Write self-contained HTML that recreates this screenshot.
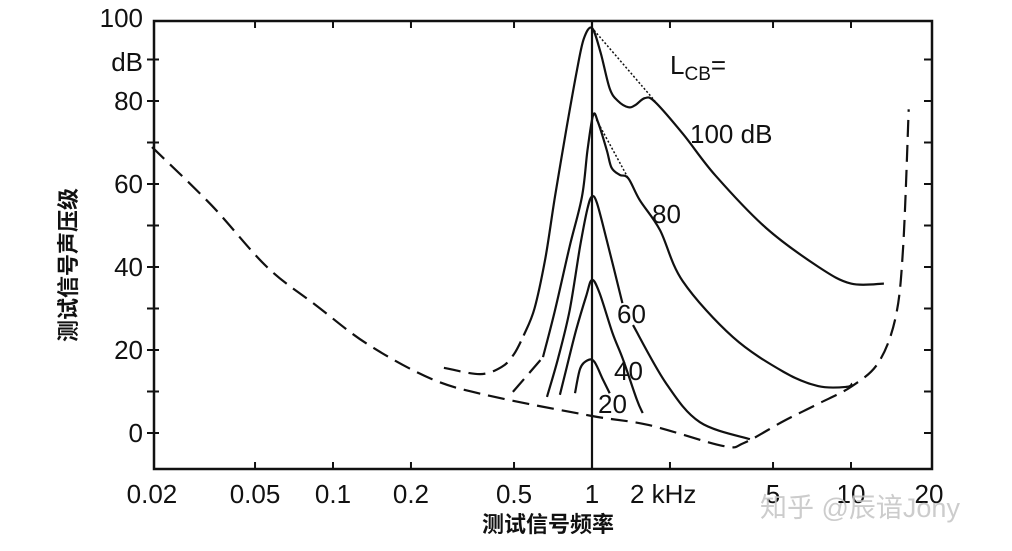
<!DOCTYPE html>
<html><head><meta charset="utf-8"><style>
html,body{margin:0;padding:0;background:#fff;}
svg{display:block;}
text{font-family:"Liberation Sans","Noto Sans CJK SC",sans-serif;fill:#111;}
</style></head><body>
<svg id="chart" width="1012" height="551" viewBox="0 0 1012 551" xmlns="http://www.w3.org/2000/svg">
<g id="axes"></g>
<g id="curves"></g>
<g id="labels"></g>
</svg>
<script>
// ---- data ----
const xTickVals = [0.02,0.05,0.1,0.2,0.5,1,2,5,10,20];
const xTickLabels = ["0.02","0.05","0.1","0.2","0.5","1","2 kHz","5","10","20"];
const yTickVals = [0,20,40,60,80,100];
const yTickLabels = ["0","20","40","60","80","100"];
const thrF = [0.02,0.0338,0.0556,0.0859,0.136,0.241,0.407,1.0,1.66,3.2,3.86,5.5,7.46,10.1,12.8,14.9,15.9,16.7];
const thrDB = [68.9,55,40,30.8,21.4,13,8.9,4.1,1.9,-3.1,-2.4,2.9,7,11.3,17.1,28.2,45,78];
const c100DashF = [0.268,0.37,0.45,0.5,0.545];
const c100DashDB = [15.7,14.2,16,19,23.5];
const c100F = [0.545,0.6,0.66,0.72,0.8,0.875,0.93,1.0,1.08,1.17,1.26,1.38,1.47,1.6,1.75,2.25,3.0,4.7,7.5,10,13.4];
const c100DB = [23.5,30,42,57,74,87.5,95,97.6,91.6,83,80,78.5,79,80.7,79.8,72,62,49.4,40,36,36];
const c100DotF = [1.02,1.75];
const c100DotDB = [97,80];
const c80DashF = [0.495,0.647];
const c80DashDB = [9.9,18.3];
const c80F = [0.647,0.72,0.82,0.915,0.96,1.01,1.055,1.14,1.19,1.28,1.38,1.53,1.83,2.24,3.5,5.5,7.46,9.6,10.1];
const c80DB = [18.3,29.6,45,57,68,76.6,74.9,68.2,63.9,62.2,61.4,56.1,48.9,36.6,23.1,14.7,11.3,11.1,11.9];
const c80DotF = [1.04,1.38];
const c80DotDB = [75.5,61.4];
const c60F = [0.67,0.74,0.82,0.9,0.96,1.0,1.045,1.14,1.31];
const c60DB = [8.7,18,29.6,45,54,57,55.4,46.5,31.3];
const c60TailF = [1.44,1.93,2.61,4.07];
const c60TailDB = [26,12,2.6,-1.5];
const c40F = [0.752,0.8,0.87,0.95,1.0,1.07,1.2,1.32,1.49,1.57];
const c40DB = [9.2,16,25,33,36.9,33.7,24.1,17.6,8,4.8];
const c20F = [0.86,0.9,0.96,1.02,1.1,1.17];
const c20DB = [9.6,15.5,17.5,17.2,13,9.6];
// ---- scales ----
const X0=592, XD=259, Y0=433, YK=4.15;
const L=154,R=932,T=21,B=469;
function sx(f){return X0+XD*Math.log10(f);}
function sy(d){return Y0-d*YK;}
const NS="http://www.w3.org/2000/svg";
function mk(tag,attrs,parent){const e=document.createElementNS(NS,tag);for(const k in attrs)e.setAttribute(k,attrs[k]);parent.appendChild(e);return e;}
function pathD(F,D){
  const p=F.map((f,i)=>[sx(f),sy(D[i])]);
  let d="M"+p[0][0].toFixed(1)+","+p[0][1].toFixed(1);
  for(let i=0;i<p.length-1;i++){
    const p0=p[i-1]||p[i],p1=p[i],p2=p[i+1],p3=p[i+2]||p2;
    const c1x=p1[0]+(p2[0]-p0[0])/6,c1y=p1[1]+(p2[1]-p0[1])/6;
    const c2x=p2[0]-(p3[0]-p1[0])/6,c2y=p2[1]-(p3[1]-p1[1])/6;
    d+=" C"+c1x.toFixed(1)+","+c1y.toFixed(1)+" "+c2x.toFixed(1)+","+c2y.toFixed(1)+" "+p2[0].toFixed(1)+","+p2[1].toFixed(1);
  }
  return d;
}
const axes=document.getElementById('axes');
const curves=document.getElementById('curves');
const labels=document.getElementById('labels');
const frame=mk('rect',{x:L,y:T,width:R-L,height:B-T,fill:'none',stroke:'#111','stroke-width':2.5},axes);


const vline=mk('line',{x1:sx(1),y1:T,x2:sx(1),y2:B,stroke:'#111','stroke-width':2.2},axes);


xTickVals.forEach((v,i)=>{
  const x=sx(v);
  if(i>0&&i<xTickVals.length-1){
    const t1=mk('line',{x1:x,y1:B,x2:x,y2:B-7,stroke:'#111','stroke-width':2},axes);
    
    
    const t2=mk('line',{x1:x,y1:T,x2:x,y2:T+7,stroke:'#111','stroke-width':2},axes);
    
    
  }
  const lab=xTickLabels[i];
  const isK=lab.indexOf('kHz')>=0;
  const tx=mk('text',{x:isK?x-40:x,y:503,'font-size':26,'text-anchor':isK?'start':'middle'},labels);
  tx.textContent=lab;
  
  
});
for(let d=0;d<=90;d+=10){
  const y=sy(d);
  const t=mk('line',{x1:L-7,y1:y,x2:L+5,y2:y,stroke:'#111','stroke-width':2},axes);
  
  
  const t2=mk('line',{x1:R,y1:y,x2:R-8,y2:y,stroke:'#111','stroke-width':2},axes);
  
  
}
yTickVals.forEach((v,i)=>{
  const tx=mk('text',{x:143,y:sy(v)+9,'font-size':26,'text-anchor':'end'},labels);
  tx.textContent=yTickLabels[i];
  
  
});
const dbu=mk('text',{x:143,y:71,'font-size':26,'text-anchor':'end'},labels);
dbu.textContent='dB';


function draw(F,D,name,style){
  const a={d:pathD(F,D),fill:'none',stroke:'#111','stroke-width':2.2,'stroke-linejoin':'round'};
  if(style==='dash'){a['stroke-dasharray']='17 8';}
  if(style==='dot'){a['stroke-dasharray']='2 2';a['stroke-width']=1.5;}
  const p=mk('path',a,curves);
  
  
}
draw(thrF,thrDB,'threshold-in-quiet-curve','dash');
draw(c100DashF,c100DashDB,'masking-100db-dashed','dash');
draw(c100F,c100DB,'masking-100db-curve','solid');
draw(c100DotF,c100DotDB,'masking-100db-dotted','dot');
draw(c80DashF,c80DashDB,'masking-80db-dashed','dash');
draw(c80F,c80DB,'masking-80db-curve','solid');
draw(c80DotF,c80DotDB,'masking-80db-dotted','dot');
draw(c60F,c60DB,'masking-60db-curve','solid');
draw(c60TailF,c60TailDB,'masking-60db-tail','solid');
draw(c40F,c40DB,'masking-40db-curve','solid');
draw(c20F,c20DB,'masking-20db-curve','solid');
function txt(x,y,s,name,size,extra){
  const t=mk('text',Object.assign({x:x,y:y,'font-size':size||26},extra||{}),labels);
  t.textContent=s;
  
  
  return t;
}
const lcb=mk('text',{x:670,y:74,'font-size':26},labels);


lcb.innerHTML='L<tspan font-size="19" dy="6">CB</tspan><tspan dy="-6">=</tspan>';
txt(690,143,'100 dB','label-100db');
txt(652,223,'80','label-80');
txt(617,323,'60','label-60');
txt(614,380,'40','label-40');
txt(598,413,'20','label-20');
txt(0,0,'测试信号声压级','y-axis-title',22,{transform:'translate(76,265) rotate(-90)','text-anchor':'middle','font-weight':'bold'});
txt(548,532,'测试信号频率','x-axis-title',22,{'text-anchor':'middle','font-weight':'bold'});
const wm=txt(760,517,'知乎 @辰谙Jony','watermark',27);
wm.setAttribute('style','fill:#c4c4c4;opacity:0.85');
</script>
</body></html>
